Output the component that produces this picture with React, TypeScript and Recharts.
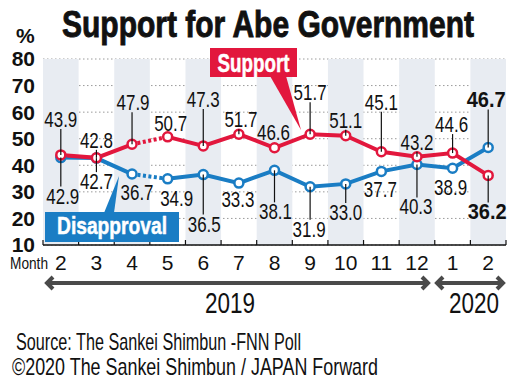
import React from "react";
import {
  ComposedChart,
  Line,
  XAxis,
  YAxis,
  CartesianGrid,
  ReferenceArea,
  LabelList,
} from "recharts";

const months = ["2", "3", "4", "5", "6", "7", "8", "9", "10", "11", "12", "1", "2"];
const years = [2019, 2019, 2019, 2019, 2019, 2019, 2019, 2019, 2019, 2019, 2019, 2020, 2020];
const support = [43.9, 42.8, 47.9, 50.7, 47.3, 51.7, 46.6, 51.7, 51.1, 45.1, 43.2, 44.6, 36.2];
const disapproval = [42.9, 42.7, 36.7, 34.9, 36.5, 33.3, 38.1, 31.9, 33.0, 37.7, 40.3, 38.9, 46.7];
const yTicks = [10, 20, 30, 40, 50, 60, 70, 80];
// the Apr -> May 2019 step is drawn dotted
const GAP_FROM = 2;

// label placement (px from the point) and leader lines
const supDy = [-28, -10, -34, -6, -39, -7, -8, -34, -8, -42, -7, -21, 44];
const supDx = [0, 0, 1, 3, 0, 2, -1, 0, 0, 0, 0, -1, -1];
const supLead = [1, 1, 1, 0, 1, 1, 0, 1, 1, 1, 1, 1, 1];
const disDy = [46, 31, 26, 27, 57, 24, 49, 50, 36, 26, 50, 27, -40];
const disDx = [2, 0, 5, 9, 1, -1, 1, -1, 0, -1, -1, -2, -2];
const disLead = [1, 1, 0, 0, 1, 0, 1, 1, 1, 0, 1, 0, 1];

const RED = "#e2173d";
const BLUE = "#1a7dc4";
const BAND_FILL = "#e8ecf2";
const FONT = "'Liberation Sans', Arial, sans-serif";
const NARROW = "'Liberation Sans Narrow', 'Liberation Sans', Arial, sans-serif";

const W = 516;
const H = 386;
const MARGIN = { top: 59, right: 10, bottom: 110, left: 0 };
const X_AXIS_H = 31;
const Y_AXIS_W = 43;
const PLOT_BOTTOM = H - MARGIN.bottom - X_AXIS_H;
const BAND = (W - MARGIN.right - Y_AXIS_W) / months.length;

const data = months.map((m, i) => ({
  key: `${years[i]}-${i}`,
  month: m,
  support: support[i],
  disapproval: disapproval[i],
  supA: i <= GAP_FROM ? support[i] : null,
  supGap: i === GAP_FROM || i === GAP_FROM + 1 ? support[i] : null,
  supB: i > GAP_FROM ? support[i] : null,
  disA: i <= GAP_FROM ? disapproval[i] : null,
  disGap: i === GAP_FROM || i === GAP_FROM + 1 ? disapproval[i] : null,
  disB: i > GAP_FROM ? disapproval[i] : null,
}));

const makeLabel = (values: number[], dy: number[], dx: number[], lead: number[]) =>
  (props: any) => {
    const { x, y, index } = props;
    if (x == null || y == null) return null;
    const last = index === values.length - 1;
    const base = y + dy[index];
    const above = dy[index] < 0;
    const edge = above ? base + 2 : base - 17;
    return (
      <g>
        {lead[index] ? (
          <line x1={x} x2={x} y1={edge} y2={y} stroke="#111" strokeWidth={1.2} />
        ) : null}
        <text
          x={x + dx[index]}
          y={base}
          textAnchor="middle"
          fontFamily={FONT}
          fontSize={22}
          fontWeight={last ? 700 : 400}
          fill="#111"
          textLength={last ? 39 : 33}
          lengthAdjust="spacingAndGlyphs"
        >
          {values[index].toFixed(1)}
        </text>
      </g>
    );
  };

const MonthTick = (props: any) => {
  const { x, index } = props;
  const last = index === months.length - 1;
  return (
    <g>
      <line x1={x - BAND / 2} x2={x - BAND / 2} y1={PLOT_BOTTOM - 5} y2={PLOT_BOTTOM} stroke="#111" strokeWidth={1.2} />
      {last ? (
        <line x1={x + BAND / 2} x2={x + BAND / 2} y1={PLOT_BOTTOM - 5} y2={PLOT_BOTTOM} stroke="#111" strokeWidth={1.2} />
      ) : null}
      <text x={x} y={PLOT_BOTTOM + 25} textAnchor="middle" fontFamily={FONT} fontSize={21} fill="#111">
        {months[index]}
      </text>
    </g>
  );
};

const Arrow = ({ x1, x2, y }: { x1: number; x2: number; y: number }) => (
  <g stroke="#4a4a4a" strokeWidth={4} fill="none">
    <line x1={x1 + 2} x2={x2 - 2} y1={y} y2={y} />
    <polyline points={`${x1 + 8},${y - 6} ${x1 + 2},${y} ${x1 + 8},${y + 6}`} />
    <polyline points={`${x2 - 8},${y - 6} ${x2 - 2},${y} ${x2 - 8},${y + 6}`} />
  </g>
);

export default function App() {
  return (
    <div style={{ position: "absolute", left: 0, top: 0, width: W, height: H, background: "#fff" }}>
      <ComposedChart width={W} height={H} data={data} margin={MARGIN}>
        {data.map((d, i) =>
          i % 2 === 0 ? (
            <ReferenceArea key={d.key} x1={d.key} x2={d.key} fill={BAND_FILL} fillOpacity={1} stroke="none" />
          ) : null
        )}
        <CartesianGrid vertical={false} stroke="#9a9a9a" strokeDasharray="1.5 2.5" />
        <XAxis
          dataKey="key"
          scale="band"
          height={X_AXIS_H}
          interval={0}
          tickLine={false}
          axisLine={{ stroke: "#111", strokeWidth: 1.5 }}
          tick={<MonthTick />}
        />
        <YAxis
          width={Y_AXIS_W}
          domain={[10, 80]}
          ticks={yTicks}
          interval={0}
          axisLine={false}
          tickLine={false}
          tick={{ fontFamily: FONT, fontSize: 21, fontWeight: 700, fill: "#111" }}
        />
        <Line dataKey="disapproval" stroke="none" dot={false} activeDot={false} isAnimationActive={false}>
          <LabelList content={makeLabel(disapproval, disDy, disDx, disLead)} />
        </Line>
        <Line dataKey="support" stroke="none" dot={false} activeDot={false} isAnimationActive={false}>
          <LabelList content={makeLabel(support, supDy, supDx, supLead)} />
        </Line>
        <Line dataKey="disA" stroke={BLUE} strokeWidth={4} dot={false} activeDot={false} isAnimationActive={false} />
        <Line dataKey="disGap" stroke={BLUE} strokeWidth={4} strokeDasharray="3 2.5" dot={false} activeDot={false} isAnimationActive={false} />
        <Line dataKey="disB" stroke={BLUE} strokeWidth={4} dot={false} activeDot={false} isAnimationActive={false} />
        <Line
          dataKey="disapproval"
          stroke="none"
          dot={{ r: 4.5, fill: "#fff", stroke: BLUE, strokeWidth: 2.5 }}
          activeDot={false}
          isAnimationActive={false}
        />
        <Line dataKey="supA" stroke={RED} strokeWidth={4} dot={false} activeDot={false} isAnimationActive={false} />
        <Line dataKey="supGap" stroke={RED} strokeWidth={4} strokeDasharray="3 2.5" dot={false} activeDot={false} isAnimationActive={false} />
        <Line dataKey="supB" stroke={RED} strokeWidth={4} dot={false} activeDot={false} isAnimationActive={false} />
        <Line
          dataKey="support"
          stroke="none"
          dot={{ r: 4.5, fill: "#fff", stroke: RED, strokeWidth: 2.5 }}
          activeDot={false}
          isAnimationActive={false}
        />
      </ComposedChart>

      <svg width={W} height={H} style={{ position: "absolute", left: 0, top: 0, pointerEvents: "none" }}>
        <text x={62} y={37} fontFamily={NARROW} fontWeight={700} fontSize={37} fill="#111" stroke="#111" strokeWidth={0.9} textLength={412} lengthAdjust="spacingAndGlyphs">
          Support for Abe Government
        </text>
        <text x={16} y={43} fontFamily={FONT} fontWeight={700} fontSize={21} fill="#111">
          %
        </text>

        <rect x={210} y={48} width={87} height={29} fill={RED} />
        <polygon points="270,76 286,76 301,130" fill={RED} />
        <text x={253.5} y={72} textAnchor="middle" fontFamily={NARROW} fontWeight={700} fontSize={25} fill="#fff" stroke="#fff" strokeWidth={0.5} textLength={72} lengthAdjust="spacingAndGlyphs">
          Support
        </text>

        <rect x={45} y={212} width={134} height={30} fill={BLUE} />
        <polygon points="104,213 114,213 119,176" fill={BLUE} />
        <text x={112} y={234} textAnchor="middle" fontFamily={NARROW} fontWeight={700} fontSize={24} fill="#fff" stroke="#fff" strokeWidth={0.5} textLength={110} lengthAdjust="spacingAndGlyphs">
          Disapproval
        </text>

        <text x={10} y={269} fontFamily={NARROW} fontSize={16} fill="#111" textLength={38} lengthAdjust="spacingAndGlyphs">
          Month
        </text>

        <Arrow x1={45} x2={430} y={283} />
        <Arrow x1={435} x2={505} y={283} />
        <text x={205} y={313} fontFamily={NARROW} fontSize={29} fill="#111" textLength={50} lengthAdjust="spacingAndGlyphs">
          2019
        </text>
        <text x={449} y={313} fontFamily={NARROW} fontSize={29} fill="#111" textLength={50} lengthAdjust="spacingAndGlyphs">
          2020
        </text>

        <text x={16} y={350} fontFamily={NARROW} fontSize={24} fill="#111" textLength={285} lengthAdjust="spacingAndGlyphs">
          Source: The Sankei Shimbun -FNN Poll
        </text>
        <text x={12} y={375} fontFamily={NARROW} fontSize={24} fill="#111" textLength={366} lengthAdjust="spacingAndGlyphs">
          ©2020 The Sankei Shimbun / JAPAN Forward
        </text>
      </svg>
    </div>
  );
}
